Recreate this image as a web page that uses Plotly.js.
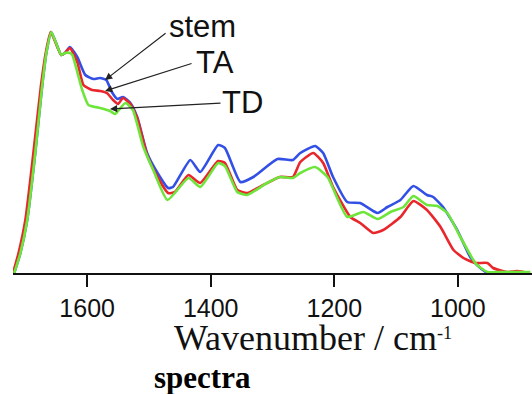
<!DOCTYPE html>
<html>
<head>
<meta charset="utf-8">
<script src="https://cdn.plot.ly/plotly-3.0.1.min.js"></script>
<style>html,body{margin:0;padding:0;background:#fff;}#chart{width:532px;height:394px;}</style>
</head>
<body>
<div id="chart"></div>
<script>
// Wavenumber (cm-1) and intensity (a.u.)
const stemWave = [1718,1708,1697,1684,1673,1666,1658,1642,1636,1628,1616,1603,1590,1579,1569,1560,1551,1542,1530,1519,1503,1486,1469,1461,1433,1417,1388,1377,1352,1331,1292,1267,1255,1231,1218,1202,1179,1158,1130,1114,1093,1072,1050,1040,1024,1001,980,969,952,931,910];
const stemAbs  = [0,20,53,120,186,220,241,218,220,226,216,198,194,195,193,181,174,176,170,156,120,100,85,86,113,101,128,125,91,96,114,113,120,127,120,96,71,70,60,66,73,87,78,76,66,43,16,8,0,-3,-3];

const taWave = [1720,1711,1700,1687,1675,1667,1659,1642,1636,1628,1616,1606,1592,1579,1568,1558,1550,1542,1530,1519,1503,1486,1469,1458,1436,1417,1388,1377,1357,1341,1315,1288,1267,1255,1234,1218,1202,1174,1158,1137,1121,1093,1072,1050,1028,1007,991,972,952,943,920,904,883];
const taAbs  = [0,20,53,120,186,220,241,218,220,225,211,188,183,182,180,173,169,175,169,155,118,96,80,81,98,90,112,110,83,80,88,96,96,111,120,110,86,56,50,40,43,56,72,63,46,23,15,10,10,5,1,2,0];

const tdWave = [1718,1708,1697,1684,1673,1666,1658,1642,1636,1628,1624,1608,1598,1579,1563,1555,1538,1526,1509,1493,1470,1436,1417,1388,1377,1357,1341,1309,1288,1267,1255,1231,1211,1179,1153,1130,1109,1088,1072,1050,1033,1017,996,975,969,952,931,883];
const tdAbs  = [0,20,53,120,186,220,241,218,220,220,218,183,168,165,162,159,170,163,126,103,73,95,86,110,107,81,78,90,96,95,100,106,96,56,61,54,61,66,77,68,67,60,36,13,8,1,1,1];

const tickVals = [1600,1400,1200,1000];
const tickText = ['1600','1400','1200','1000'];
const seriesNames = ['stem','TA','TD'];

const lineStyle = (c) => ({color:c, width:2.6, shape:'spline', smoothing:0.5});
const traces = [
  {x:stemWave, y:stemAbs, name:seriesNames[0], mode:'lines', line:lineStyle('#3350e6')},
  {x:taWave, y:taAbs, name:seriesNames[1], mode:'lines', line:lineStyle('#e8262b')},
  {x:tdWave, y:tdAbs, name:seriesNames[2], mode:'lines', line:lineStyle('#6ee53a')}
];

const arrow = (x,y,ax,ay) => ({x:x, y:y, xref:'x', yref:'y', text:'', showarrow:true,
  ax:ax, ay:ay, arrowhead:2, arrowsize:1.2, arrowwidth:1.2, arrowcolor:'#222'});
const label = (t,x,y) => ({x:x, y:y, xref:'x', yref:'y', text:t, showarrow:false,
  xanchor:'center', yanchor:'middle',
  font:{family:'Liberation Sans, Arial, sans-serif', size:31, color:'#111'}});

const layout = {
  width:532, height:394,
  margin:{l:13, r:0, t:13, b:121},
  paper_bgcolor:'#fff', plot_bgcolor:'#fff',
  showlegend:false,
  xaxis:{range:[1720,880], showgrid:false, zeroline:false, showline:true, linecolor:'#111', linewidth:2,
    ticks:'outside', ticklen:12, tickwidth:2, tickcolor:'#111',
    tickvals:tickVals, ticktext:tickText,
    tickfont:{family:'Liberation Sans, Arial, sans-serif', size:25, color:'#111'}},
  yaxis:{range:[0,260], visible:false, fixedrange:true},
  annotations:[
    arrow(1571,193,62,-48),
    arrow(1571,182,88,-28),
    arrow(1563,164,112,-6),
    label(seriesNames[0],1414,247),
    label(seriesNames[1],1393,211),
    label(seriesNames[2],1349,171),
    {xref:'paper', yref:'paper', x:0.578, y:-0.25, xanchor:'center', yanchor:'middle',
      text:'Wavenumber / cm<span style="font-size:26px"><sup>-1</sup></span>', showarrow:false,
      font:{family:'Liberation Serif, Times New Roman, serif', size:36, color:'#111'}},
    {xref:'paper', yref:'paper', x:0.366, y:-0.403, xanchor:'center', yanchor:'middle',
      text:'<b>spectra</b>', showarrow:false,
      font:{family:'Liberation Serif, Times New Roman, serif', size:31, color:'#000'}}
  ]
};

Plotly.newPlot('chart', traces, layout, {staticPlot:true, displayModeBar:false});
</script>
</body>
</html>
